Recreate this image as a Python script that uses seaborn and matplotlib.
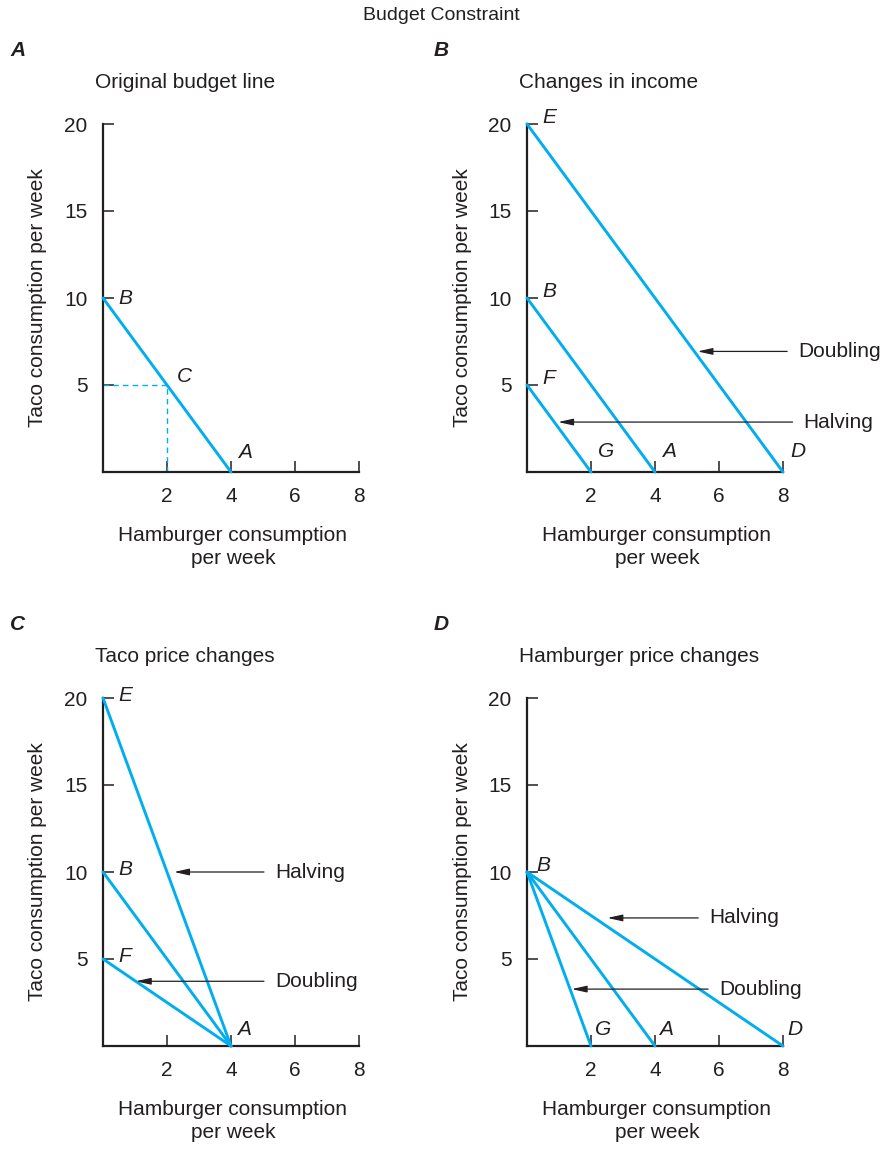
import matplotlib
matplotlib.use('Agg')
import matplotlib.pyplot as plt
import seaborn as sns
import pandas as pd

# --- data -------------------------------------------------------------
hamburger_ticks = [2, 4, 6, 8]
taco_ticks = [5, 10, 15, 20]

# budget lines as (hamburger intercept, taco intercept)
original_lines = [(4, 10)]
income_lines = [(8, 20), (4, 10), (2, 5)]
taco_price_lines = [(4, 20), (4, 10), (4, 5)]
burger_price_lines = [(8, 10), (4, 10), (2, 10)]

# bundle C on the original line
point_c = (2, 5)

# intercept names
original_y_names = {10: 'B'}
original_x_names = {4: 'A'}
income_y_names = {20: 'E', 10: 'B', 5: 'F'}
income_x_names = {2: 'G', 4: 'A', 8: 'D'}
taco_y_names = {20: 'E', 10: 'B', 5: 'F'}
taco_x_names = {4: 'A'}
burger_y_names = {10: 'B'}
burger_x_names = {2: 'G', 4: 'A', 8: 'D'}

# arrows: (text, index of line pointed at, height, gap to line, tail x)
income_arrows = [('Doubling', 0, 6.93, 0.1, 8.13), ('Halving', 2, 2.87, 0.12, 8.3)]
taco_arrows = [('Halving', 0, 10, 0.22, 5.03), ('Doubling', 2, 3.72, 0.0, 5.03)]
burger_arrows = [('Halving', 0, 7.36, 0.4, 5.35), ('Doubling', 2, 3.27, 0.05, 5.66)]

titles = ['Original budget line', 'Changes in income',
          'Taco price changes', 'Hamburger price changes']
letters = ['A', 'B', 'C', 'D']

BLUE = '#00AEEF'
INK = '#231F20'
W, H = 882, 1150

sns.set_style('white')
plt.rcParams['font.family'] = ['Liberation Sans', 'DejaVu Sans']
plt.rcParams['text.color'] = INK


def fx(px):
    return px / W


def fy(py):
    return 1 - py / H


def lines_frame(lines):
    rows = []
    for i, (xi, yi) in enumerate(lines):
        rows.append({'line': i, 'hamburger': 0, 'taco': yi})
        rows.append({'line': i, 'hamburger': xi, 'taco': 0})
    return pd.DataFrame(rows)


def draw_panel(ax, lines, y_names, x_names, arrows, y_off=(11, 2), x_off=(5, 14)):
    df = lines_frame(lines)
    sns.lineplot(data=df, x='hamburger', y='taco', units='line', estimator=None,
                 sort=False, color=BLUE, lw=2.1, ax=ax, clip_on=False, zorder=3)
    ax.set_xlim(0, 8)
    ax.set_ylim(0, 20)
    ax.set_xticks(hamburger_ticks)
    ax.set_yticks(taco_ticks)
    ax.set_xlabel('')
    ax.set_ylabel('')
    sns.despine(ax=ax)
    for s in ['left', 'bottom']:
        ax.spines[s].set_linewidth(1.6)
        ax.spines[s].set_color(INK)
    ax.tick_params(left=True, bottom=True, direction='in', length=8, width=1.1,
                   pad=11, labelsize=15, colors=INK)

    for yv, name in y_names.items():
        ax.annotate(name, (0, yv), xytext=y_off, textcoords='offset points',
                    ha='left', va='center', fontsize=15, style='italic')
    for xv, name in x_names.items():
        ax.annotate(name, (xv, 0), xytext=x_off, textcoords='offset points',
                    ha='left', va='center', fontsize=15, style='italic')

    for text, idx, h, gap, tail in arrows:
        xi, yi = lines[idx]
        tip = xi * (1 - h / yi) + gap
        ax.annotate('', xy=(tip, h), xytext=(tail, h),
                    arrowprops=dict(arrowstyle='-|>,head_length=0.9,head_width=0.2',
                                    color=INK, lw=0.9, shrinkA=0, shrinkB=0))
        ax.annotate(text, (tail, h), xytext=(8, 0), textcoords='offset points',
                    ha='left', va='center', fontsize=15, annotation_clip=False)


fig = plt.figure(figsize=(W / 100, H / 100), dpi=100)

# axes frames in pixels: left, bottom
frames = [(103, 472), (527, 472), (103, 1046), (527, 1046)]
ax_w, ax_h = 256, 348
axes = []
for left, bottom in frames:
    axes.append(fig.add_axes([fx(left), fy(bottom), ax_w / W, ax_h / H]))

draw_panel(axes[0], original_lines, original_y_names, original_x_names, [],
           y_off=(11, 0), x_off=(5, 14))
cx, cy = point_c
axes[0].plot([0, cx], [cy, cy], color=BLUE, lw=1.0, ls=(0, (4, 3)), zorder=2)
axes[0].plot([cx, cx], [0, cy], color=BLUE, lw=1.0, ls=(0, (4, 3)), zorder=2)
axes[0].annotate('C', point_c, xytext=(7, 6), textcoords='offset points',
                 ha='left', va='center', fontsize=15, style='italic')

draw_panel(axes[1], income_lines, income_y_names, income_x_names, income_arrows,
           y_off=(11, 5), x_off=(5, 15))
draw_panel(axes[2], taco_price_lines, taco_y_names, taco_x_names, taco_arrows,
           y_off=(11, 2), x_off=(4, 12))
draw_panel(axes[3], burger_price_lines, burger_y_names, burger_x_names, burger_arrows,
           y_off=(7, 5), x_off=(3, 12))

# texts around the panels
fig.text(0.5, fy(15), 'Budget Constraint', ha='center', va='center', fontsize=14)
for (left, bottom), letter, title in zip(frames, letters, titles):
    row_top = bottom - 472
    fig.text(fx(left - 93), fy(row_top + 50), letter, ha='left', va='center',
             fontsize=15, fontweight='bold', style='italic')
    fig.text(fx(left - 8), fy(row_top + 82), title, ha='left', va='center',
             fontsize=15)
    fig.text(fx(left - 65), fy(bottom - ax_h / 2), 'Taco consumption per week',
             ha='center', va='center', rotation=90, fontsize=15)
    fig.text(fx(left + 130), fy(row_top + 547), 'Hamburger consumption\nper week',
             ha='center', va='center', fontsize=15, linespacing=1.25)

fig.savefig('out.png', dpi=100)
